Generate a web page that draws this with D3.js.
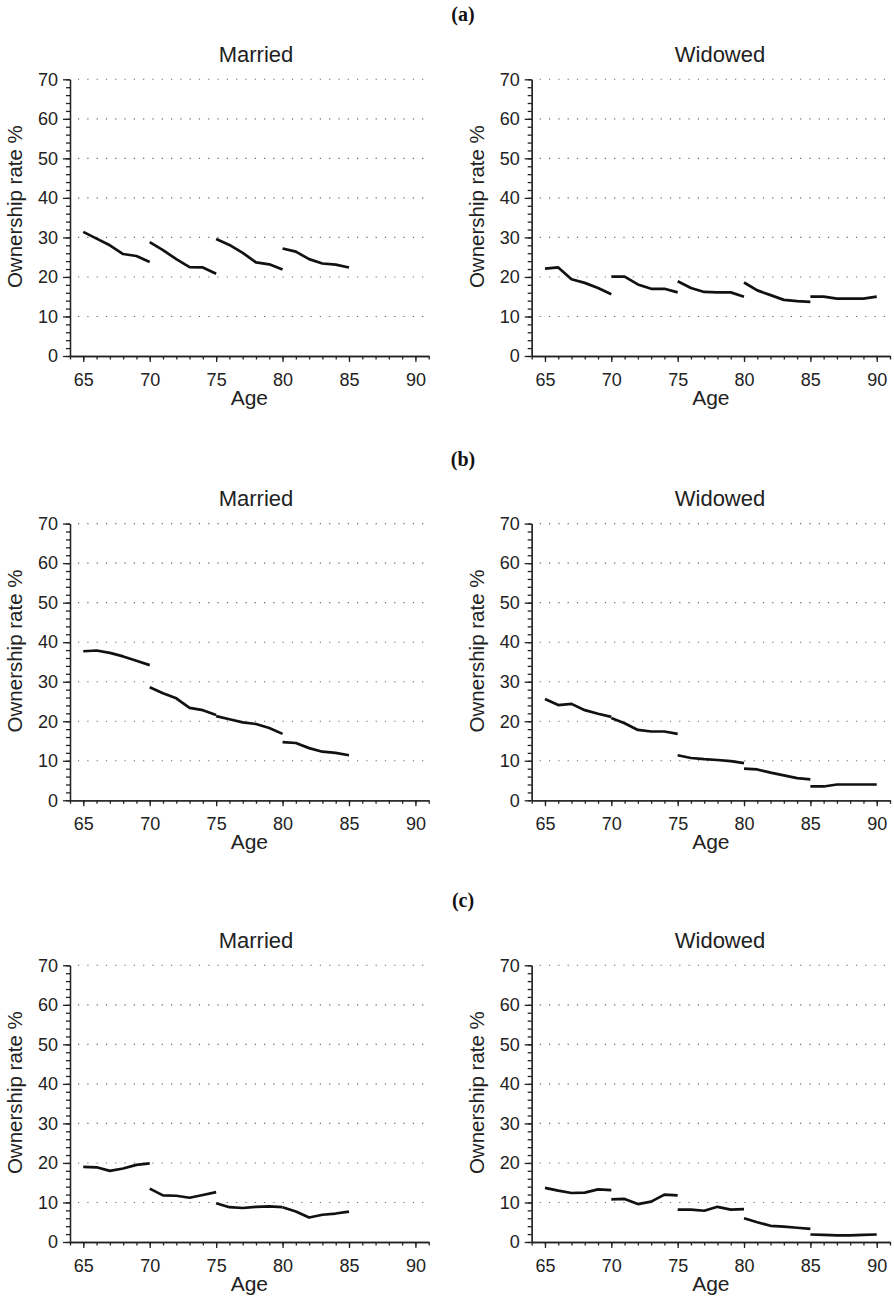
<!DOCTYPE html>
<html>
<head>
<meta charset="utf-8">
<script src="https://cdn.jsdelivr.net/npm/d3@7"></script>
<style>
body { margin: 0; background: #fff; }
</style>
</head>
<body>
<script>
var ageTicks = [65, 70, 75, 80, 85, 90];
var rateTicks = [0, 10, 20, 30, 40, 50, 60, 70];
var panelLabels = ["(a)", "(b)", "(c)"];
var groupNames = ["Married", "Widowed"];

// each line starts at the age in the *Starts array, one value per year of age
var aMarriedStarts = [65, 70, 75, 80];
var aMarried = [
	[31.4, 29.7, 28.0, 25.8, 25.3, 23.8],
	[28.8, 26.8, 24.5, 22.5, 22.4, 20.8],
	[29.6, 28.1, 26.1, 23.7, 23.2, 21.9],
	[27.2, 26.4, 24.5, 23.4, 23.1, 22.4]
];
var aWidowedStarts = [65, 70, 75, 80, 85];
var aWidowed = [
	[22.1, 22.4, 19.4, 18.5, 17.2, 15.6],
	[20.1, 20.1, 18.1, 17.0, 17.0, 16.1],
	[18.9, 17.2, 16.2, 16.1, 16.1, 15.0],
	[18.6, 16.6, 15.4, 14.2, 13.9, 13.7],
	[15.0, 15.0, 14.5, 14.5, 14.5, 15.0]
];

var bMarriedStarts = [65, 70, 75, 80];
var bMarried = [
	[37.7, 37.9, 37.3, 36.4, 35.3, 34.2],
	[28.6, 27.1, 25.8, 23.4, 22.8, 21.6],
	[21.3, 20.5, 19.7, 19.3, 18.3, 16.8],
	[14.7, 14.5, 13.2, 12.3, 12.0, 11.4]
];
var bWidowedStarts = [65, 70, 75, 80, 85];
var bWidowed = [
	[25.6, 24.1, 24.4, 22.8, 21.9, 21.1],
	[20.8, 19.5, 17.8, 17.4, 17.4, 16.8],
	[11.4, 10.7, 10.4, 10.2, 9.9, 9.4],
	[8.0, 7.8, 7.0, 6.3, 5.6, 5.3],
	[3.5, 3.5, 4.0, 4.0, 4.0, 4.0]
];

var cMarriedStarts = [65, 70, 75, 80];
var cMarried = [
	[19.0, 18.9, 18.0, 18.6, 19.5, 19.9],
	[13.5, 11.8, 11.7, 11.2, 11.9, 12.6],
	[9.8, 8.8, 8.6, 8.9, 9.0, 8.8],
	[8.8, 7.7, 6.2, 6.9, 7.2, 7.7]
];
var cWidowedStarts = [65, 70, 75, 80, 85];
var cWidowed = [
	[13.7, 13.0, 12.4, 12.5, 13.3, 13.1],
	[10.8, 10.9, 9.6, 10.2, 12.0, 11.8],
	[8.2, 8.2, 7.9, 8.9, 8.2, 8.3],
	[6.0, 5.0, 4.1, 3.9, 3.6, 3.3],
	[1.9, 1.8, 1.7, 1.7, 1.8, 1.9]
];

var w = 894;
var h = 1303;
var plotH = 276.7;
var panelTops = [79.3, 523.6, 965.3];
var cols = [
	{ x0: 70, x1: 428.7, title: 256, ylab: 22 },
	{ x0: 531.7, x1: 890, title: 720, ylab: 483.5 }
];
var panels = [
	[[aMarriedStarts, aMarried], [aWidowedStarts, aWidowed]],
	[[bMarriedStarts, bMarried], [bWidowedStarts, bWidowed]],
	[[cMarriedStarts, cMarried], [cWidowedStarts, cWidowed]]
];

var svg = d3.select("body")
	.append("svg")
	.attr("width", w)
	.attr("height", h)
	.style("font-family", "'Liberation Sans', Arial, sans-serif");

function drawPanel(top, col, title, starts, rates) {
	var x = d3.scaleLinear().domain([64, 91]).range([col.x0, col.x1]);
	var y = d3.scaleLinear().domain([0, 70]).range([top + plotH, top]);
	var g = svg.append("g");

	// dotted grid
	g.selectAll("line.grid")
		.data(rateTicks.filter(function (v) { return v > 0; }))
		.enter()
		.append("line")
		.attr("class", "grid")
		.attr("x1", col.x0 + 8)
		.attr("x2", col.x1)
		.attr("y1", function (v) { return y(v); })
		.attr("y2", function (v) { return y(v); })
		.attr("stroke", "#666")
		.attr("stroke-width", 1.1)
		.attr("stroke-dasharray", "1.2,8.1");

	// x axis: minor then major ticks
	g.append("g")
		.attr("transform", "translate(0," + y(0) + ")")
		.call(d3.axisBottom(x).tickValues(d3.range(64, 92)).tickSize(3.5).tickFormat("").tickSizeOuter(0));
	var xa = g.append("g")
		.attr("transform", "translate(0," + y(0) + ")")
		.call(d3.axisBottom(x).tickValues(ageTicks).tickSize(6).tickPadding(11).tickSizeOuter(0));
	xa.selectAll("text").attr("font-size", 18).attr("font-family", "'Liberation Sans', Arial, sans-serif").attr("fill", "#222");

	// y axis
	g.append("g")
		.attr("transform", "translate(" + col.x0 + ",0)")
		.call(d3.axisLeft(y).tickValues(d3.range(0, 71, 2)).tickSize(4).tickFormat("").tickSizeOuter(0));
	var ya = g.append("g")
		.attr("transform", "translate(" + col.x0 + ",0)")
		.call(d3.axisLeft(y).tickValues(rateTicks).tickSize(7).tickPadding(5).tickSizeOuter(0));
	ya.selectAll("text").attr("font-size", 18).attr("font-family", "'Liberation Sans', Arial, sans-serif").attr("fill", "#222");

	g.selectAll(".domain, .tick line").attr("stroke", "#222").attr("stroke-width", 1.3);

	var line = function (start) {
		return d3.line()
			.x(function (d, i) { return x(start + i); })
			.y(function (d) { return y(d); });
	};
	g.selectAll("path.rate")
		.data(rates)
		.enter()
		.append("path")
		.attr("class", "rate")
		.attr("d", function (d, i) { return line(starts[i])(d); })
		.attr("fill", "none")
		.attr("stroke", "#111")
		.attr("stroke-width", 2.7)
		.attr("stroke-linejoin", "round");

	g.append("text")
		.attr("x", col.title)
		.attr("y", top - 17.5)
		.attr("text-anchor", "middle")
		.attr("font-size", 22)
		.attr("fill", "#222")
		.text(title);

	g.append("text")
		.attr("x", (col.x0 + col.x1) / 2)
		.attr("y", top + plotH + 49)
		.attr("text-anchor", "middle")
		.attr("font-size", 21)
		.attr("fill", "#222")
		.text("Age");

	g.append("text")
		.attr("transform", "translate(" + col.ylab + "," + (top + plotH / 2 - 11) + ") rotate(-90)")
		.attr("text-anchor", "middle")
		.attr("font-size", 20.5)
		.attr("fill", "#222")
		.text("Ownership rate %");
}

panels.forEach(function (row, r) {
	svg.append("text")
		.attr("x", 463)
		.attr("y", panelTops[r] - 58)
		.attr("text-anchor", "middle")
		.attr("font-family", "'Liberation Serif', 'Times New Roman', serif")
		.attr("font-weight", "bold")
		.attr("font-size", 20)
		.attr("fill", "#111")
		.text(panelLabels[r]);
	row.forEach(function (p, c) {
		drawPanel(panelTops[r], cols[c], groupNames[c], p[0], p[1]);
	});
});
</script>
</body>
</html>
